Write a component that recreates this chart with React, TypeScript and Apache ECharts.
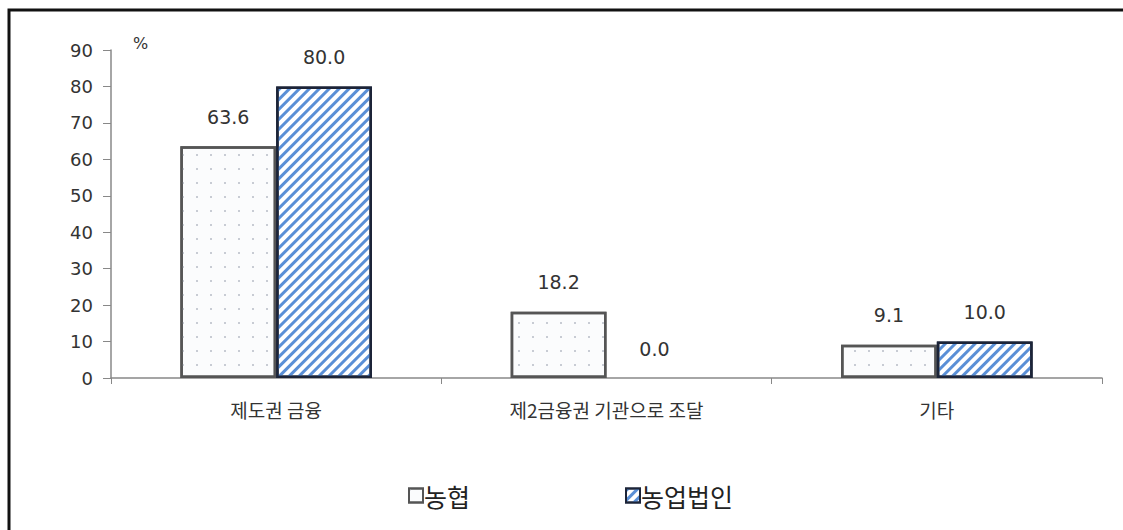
import React, { useEffect, useRef } from "react";
import * as echarts from "echarts";

const categories = ["제도권 금융", "제2금융권 기관으로 조달", "기타"];
const seriesNames = ["농협", "농업법인"];
const nonghyup = [63.6, 18.2, 9.1];
const corp = [80.0, 0.0, 10.0];
const yTicks = [0, 10, 20, 30, 40, 50, 60, 70, 80, 90];

const FONT = "'Noto Sans CJK KR', 'Noto Sans', sans-serif";
const NUMFONT = "'DejaVu Sans', 'Noto Sans', sans-serif";

export default function App() {
  const ref = useRef<HTMLDivElement>(null);
  useEffect(() => {
    if (!ref.current) return;
    const chart = echarts.init(ref.current, null, { renderer: "svg" });
    const labelCfg = {
      show: true,
      position: "top" as const,
      distance: 20,
      color: "#333",
      fontSize: 19,
      fontFamily: NUMFONT,
      formatter: (p: any) => Number(p.value).toFixed(1),
    };
    const corpData = corp.map((v) =>
      v === 0 ? { value: v, itemStyle: { borderWidth: 0, borderColor: "transparent" } } : v
    );
    chart.setOption({
      animation: false,
      backgroundColor: "#fff",
      grid: { left: 111, right: 21, top: 50, bottom: 152, containLabel: false },
      graphic: [
        {
          type: "rect",
          shape: { x: 9, y: 10, width: 1300, height: 700 },
          style: { fill: "none", stroke: "#111", lineWidth: 3 },
          silent: true,
        },
        {
          type: "text",
          left: 133,
          top: 35,
          style: { text: "%", fontSize: 16, fill: "#333", fontFamily: NUMFONT },
        },
      ],
      legend: {
        data: seriesNames,
        left: 403,
        top: 478,
        itemWidth: 14,
        itemHeight: 14,
        itemGap: 155,
        icon: "rect",
        textStyle: { fontSize: 25, color: "#222", fontFamily: FONT, padding: [0, 0, 0, -4] },
      },
      xAxis: {
        type: "category",
        data: categories,
        axisLine: { lineStyle: { color: "#888", width: 1.5 } },
        axisTick: { show: true, length: 6, lineStyle: { color: "#888" } },
        axisLabel: { fontSize: 19, color: "#333", fontFamily: FONT, margin: 22 },
      },
      yAxis: {
        type: "value",
        min: 0,
        max: 90,
        interval: 10,
        axisLine: { show: true, lineStyle: { color: "#888", width: 1.5 } },
        axisTick: { show: true, length: 8, lineStyle: { color: "#888" } },
        splitLine: { show: false },
        axisLabel: {
          fontSize: 18,
          color: "#333",
          fontFamily: NUMFONT,
          margin: 18,
          formatter: (v: number) => (yTicks.includes(v) ? String(v) : ""),
        },
      },
      series: [
        {
          name: seriesNames[0],
          type: "bar",
          data: nonghyup,
          barGap: "0%",
          barCategoryGap: "42%",
          itemStyle: {
            color: "#fbfcfd",
            borderColor: "#555",
            borderWidth: 2.5,
            decal: {
              symbol: "rect",
              symbolSize: 1,
              color: "#c8ccd4",
              dashArrayX: [2, 12],
              dashArrayY: [2, 12],
              rotation: 0,
            },
          },
          label: labelCfg,
        },
        {
          name: seriesNames[1],
          type: "bar",
          data: corpData,
          itemStyle: {
            color: "#ffffff",
            borderColor: "#1c2438",
            borderWidth: 2.5,
            decal: {
              symbol: "rect",
              symbolSize: 1,
              color: "#5a8fd6",
              dashArrayX: [1, 0],
              dashArrayY: [3, 4],
              rotation: -Math.PI / 4,
            },
          },
          label: labelCfg,
        },
      ],
    });
    return () => chart.dispose();
  }, []);
  return (
    <div
      ref={ref}
      style={{ position: "fixed", left: 0, top: 0, width: 1123, height: 530 }}
    />
  );
}
